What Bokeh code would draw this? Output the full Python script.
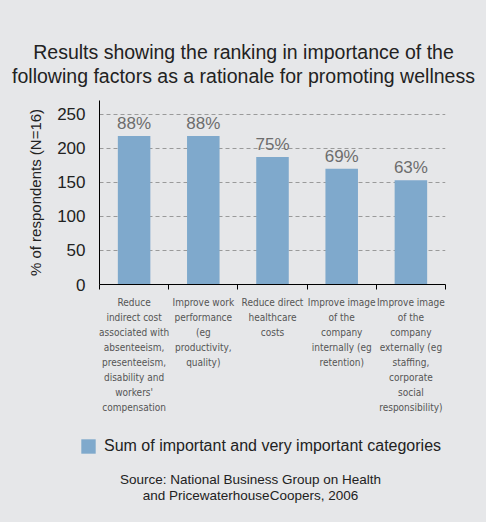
from bokeh.plotting import figure
from bokeh.models import (ColumnDataSource, Range1d, FixedTicker, Legend, LegendItem)
from bokeh.layouts import column
from bokeh.core.properties import value
from bokeh.embed import file_html
from bokeh.resources import INLINE

categories = [
    "Reduce\nindirect cost\nassociated with\nabsenteeism,\npresenteeism,\ndisability and\nworkers'\ncompensation",
    "Improve work\nperformance\n(eg\nproductivity,\nquality)",
    "Reduce direct\nhealthcare\ncosts",
    "Improve image\nof the\ncompany\ninternally (eg\nretention)",
    "Improve image\nof the\ncompany\nexternally (eg\nstaffing,\ncorporate\nsocial\nresponsibility)",
]
values = [218, 218, 187, 170, 153]
pct_labels = ["88%", "88%", "75%", "69%", "63%"]
y_ticks = [0, 50, 100, 150, 200, 250]
title_lines = ["Results showing the ranking in importance of the",
               "following factors as a rationale for promoting wellness"]
legend_label = "Sum of important and very important categories"
source_lines = ["Source: National Business Group on Health",
                "and PricewaterhouseCoopers, 2006"]

BG = "#e6e7e9"
BAR = "#7fa9cc"
FONT = "Liberation Sans"
NARROW = "'DejaVu Sans Condensed', 'Liberation Sans'"
W = 486

xs = [i + 0.5 for i in range(len(values))]
src = ColumnDataSource(dict(x=xs, top=values, lab=pct_labels))


def blank(h, x0):
    # a figure whose frame is the whole canvas; x data = pixel + x0, y data = pixel from top
    f = figure(width=W, height=h, output_backend="svg", toolbar_location=None,
               x_range=Range1d(x0, x0 + W), y_range=Range1d(h, 0),
               x_axis_type=None, y_axis_type=None, min_border=0,
               frame_width=W, frame_height=h, frame_align=False)
    f.background_fill_color = BG
    f.border_fill_color = BG
    f.outline_line_color = None
    f.xgrid.visible = False
    f.ygrid.visible = False
    return f


# ---- title ----
top = blank(90, 0)
top.text(x=[243, 243], y=[51, 75], text=title_lines, text_align="center",
         text_baseline="middle", text_font=value(FONT), text_font_size="19.5px",
         text_color="#222222")

# ---- main chart ----
p = figure(width=W, height=332, output_backend="svg", toolbar_location=None,
           x_range=Range1d(0, len(values)), y_range=Range1d(0, 270),
           frame_width=346, frame_height=184,
           min_border_left=99, min_border_right=41, min_border_top=10, min_border_bottom=138)
p.background_fill_color = BG
p.border_fill_color = BG
p.outline_line_color = None

p.vbar(x="x", top="top", width=0.47, source=src, color=BAR, line_color=None)
p.text(x="x", y="top", text="lab", source=src, text_align="center", text_baseline="bottom",
       y_offset=-3, text_font=value(FONT), text_font_size="17px", text_color="#6d6d6d")

p.xaxis.ticker = FixedTicker(ticks=xs, minor_ticks=list(range(len(values) + 1)))
p.xaxis.major_label_overrides = {x: c for x, c in zip(xs, categories)}
p.xaxis.major_tick_out = 0
p.xaxis.major_tick_in = 0
p.xaxis.minor_tick_out = 5
p.xaxis.minor_tick_in = 0
p.xaxis.minor_tick_line_color = "black"
p.xaxis.axis_line_color = "black"
p.xaxis.major_label_text_font = NARROW
p.xaxis.major_label_text_font_size = "10px"
p.xaxis.major_label_text_line_height = 1.37
p.xaxis.major_label_text_color = "#555555"
p.xaxis.major_label_standoff = 7

p.yaxis.ticker = FixedTicker(ticks=y_ticks)
p.yaxis.minor_tick_line_color = None
p.yaxis.major_tick_out = 0
p.yaxis.major_tick_in = 0
p.yaxis.axis_line_color = "black"
p.yaxis.major_label_text_font = FONT
p.yaxis.major_label_text_font_size = "17px"
p.yaxis.major_label_text_color = "#222222"
p.yaxis.major_label_standoff = 14
p.yaxis.axis_label = "% of respondents (N=16)"
p.yaxis.axis_label_text_font = FONT
p.yaxis.axis_label_text_font_size = "15px"
p.yaxis.axis_label_text_font_style = "normal"
p.yaxis.axis_label_text_color = "#222222"
p.yaxis.axis_label_standoff = 10

p.xgrid.grid_line_color = None
p.ygrid.grid_line_color = "#9a9a9a"
p.ygrid.grid_line_dash = "4 3"
p.ygrid.ticker = FixedTicker(ticks=y_ticks[1:])

# ---- legend + source ----
# x range placed to the left of the series' x values so the swatch proxy bars stay off-canvas
bot = blank(100, -W)
sw = bot.vbar(x="x", top="top", width=0.47, source=src, color=BAR, line_color=None)
legend = Legend(items=[LegendItem(label=legend_label, renderers=[sw])],
                location=(79, 67), padding=0, margin=0, border_line_color=None,
                background_fill_alpha=0, glyph_width=18, glyph_height=18, label_standoff=7,
                label_text_font=FONT, label_text_font_size="16px", label_text_color="#222222",
                label_height=18)
bot.add_layout(legend)
bot.text(x=[250 - W] * 2, y=[57, 73], text=source_lines, text_align="center",
         text_baseline="middle", text_font=value(FONT), text_font_size="13.5px",
         text_color="#222222")

layout = column(top, p, bot, spacing=0, styles={"background-color": BG})
open("out.html", "w").write(file_html(layout, INLINE))
